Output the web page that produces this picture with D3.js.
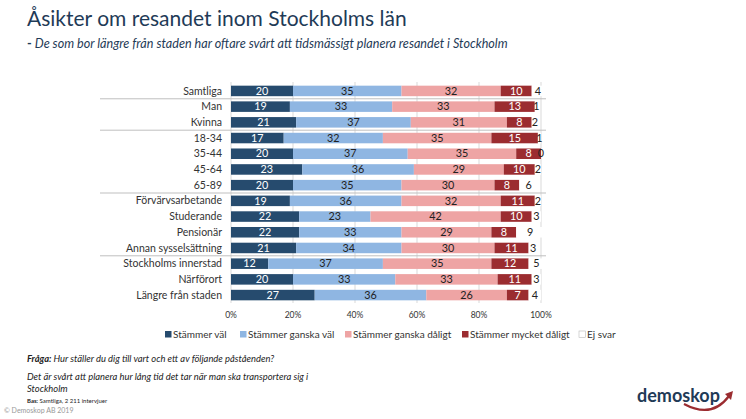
<!DOCTYPE html>
<html><head><meta charset="utf-8">
<script src="https://cdn.jsdelivr.net/npm/d3@7"></script>
<style>
body{margin:0;background:#fff;}
svg text{font-family:Lato,"Open Sans",sans-serif;}
</style></head>
<body><svg id="c" width="746" height="419"></svg>
<script>
const categories = ["Samtliga","Man","Kvinna","18-34","35-44","45-64","65-89","Förvärvsarbetande","Studerande","Pensionär","Annan sysselsättning","Stockholms innerstad","Närförort","Längre från staden"];
const seriesNames = ["Stämmer väl","Stämmer ganska väl","Stämmer ganska dåligt","Stämmer mycket dåligt","Ej svar"];
const stammerVal        = [20,19,21,17,20,23,20,19,22,22,21,12,20,27];
const stammerGanskaVal  = [35,33,37,32,37,36,35,36,23,33,34,37,33,36];
const ganskaDaligt      = [32,33,31,35,35,29,30,32,42,29,30,35,33,26];
const mycketDaligt      = [10,13,8,15,8,10,8,11,10,8,11,12,11,7];
const ejSvar            = [4,1,2,1,0,2,6,2,3,9,3,5,3,4];
const groupBreaksAfter  = ["Samtliga","Kvinna","65-89","Annan sysselsättning"];
const tickValues = [0,20,40,60,80,100];

const colors = ["#264b6e","#8fb6e2","#eea4a4","#9b2c30","#ffffff"];
const textColors = ["#ffffff","#222","#222","#ffffff","#222"];

const svg = d3.select("#c");
const x = d3.scaleLinear().domain([0,100]).range([231,541]);
const y = d3.scaleBand().domain(categories).range([83,303]).paddingInner(0.33).paddingOuter(0.17);

// title
svg.append("text").attr("x",27).attr("y",26).attr("font-size",21).attr("fill","#1f3b57").text("Åsikter om resandet inom Stockholms län");
const sub = svg.append("text").attr("x",27).attr("y",48).attr("font-size",12.6).attr("fill","#1f3b57");
sub.append("tspan").attr("font-weight","bold").text("- ");
sub.append("tspan").attr("font-style","italic").text("De som bor längre från staden har oftare svårt att tidsmässigt planera resandet i Stockholm");

// gridlines
svg.append("g").selectAll("line").data(tickValues).join("line")
  .attr("x1",d=>x(d)).attr("x2",d=>x(d)).attr("y1",82).attr("y2",303)
  .attr("stroke","#d9d9d9").attr("stroke-width",1);

// group separators
const step = y.step();
svg.append("g").selectAll("line").data(groupBreaksAfter).join("line")
  .attr("x1",100).attr("x2",546)
  .attr("y1",d=>y(d)+y.bandwidth()+ (step-y.bandwidth())/2)
  .attr("y2",d=>y(d)+y.bandwidth()+ (step-y.bandwidth())/2)
  .attr("stroke","#bfbfbf").attr("stroke-width",1);

// stacked data
const rows = categories.map((c,i)=>({cat:c, vals:[stammerVal[i],stammerGanskaVal[i],ganskaDaligt[i],mycketDaligt[i],ejSvar[i]]}));
const segs = [];
rows.forEach(r=>{let acc=0; r.vals.forEach((v,k)=>{segs.push({cat:r.cat,k,v,x0:acc,x1:acc+v}); acc+=v;});});

svg.append("g").selectAll("rect").data(segs).join("rect")
  .attr("x",d=>x(d.x0)).attr("width",d=>x(d.x1)-x(d.x0))
  .attr("y",d=>y(d.cat)).attr("height",y.bandwidth())
  .attr("fill",d=>colors[d.k]);

svg.append("g").selectAll("text").data(segs).join("text")
  .attr("x",d=>(x(d.x0)+x(d.x1))/2).attr("y",d=>y(d.cat)+y.bandwidth()/2+3.7)
  .attr("text-anchor","middle").attr("font-size",10.8)
  .attr("fill",d=>textColors[d.k]).text(d=>d.v);

// category labels
svg.append("g").selectAll("text").data(categories).join("text")
  .attr("x",222).attr("y",d=>y(d)+y.bandwidth()/2+3.6)
  .attr("text-anchor","end").attr("font-size",10.5).attr("fill","#333").text(d=>d);

// x axis ticks
svg.append("g").selectAll("text").data(tickValues).join("text")
  .attr("x",d=>x(d)).attr("y",318).attr("text-anchor","middle")
  .attr("font-size",8.5).attr("fill","#333").text(d=>d+"%");

// legend
const legX = [165,240,345,462,579];
const leg = svg.append("g").selectAll("g").data(seriesNames).join("g")
  .attr("transform",(d,i)=>`translate(${legX[i]},331)`);
leg.append("rect").attr("width",6.5).attr("height",6.5)
  .attr("fill",(d,i)=>colors[i]).attr("stroke",(d,i)=>i===4?"#bbb":"none").attr("stroke-width",0.6);
leg.append("text").attr("x",8).attr("y",6.8).attr("font-size",10).attr("fill","#333").text(d=>d);

// footer
const f1 = svg.append("text").attr("x",27).attr("y",362).attr("font-size",9.4).attr("fill","#222").attr("font-style","italic");
f1.append("tspan").attr("font-weight","bold").text("Fråga: ");
f1.append("tspan").text("Hur ställer du dig till vart och ett av följande påståenden?");
svg.append("text").attr("x",27).attr("y",380).attr("font-size",9.4).attr("fill","#222").attr("font-style","italic").text("Det är svårt att planera hur lång tid det tar när man ska transportera sig i");
svg.append("text").attr("x",27).attr("y",392).attr("font-size",9.4).attr("fill","#222").attr("font-style","italic").text("Stockholm");
const b = svg.append("text").attr("x",27).attr("y",403).attr("font-size",6).attr("fill","#222");
b.append("tspan").attr("font-weight","bold").text("Bas: ");
b.append("tspan").text("Samtliga, 2 211 intervjuer");
svg.append("text").attr("x",4).attr("y",413).attr("font-size",7).attr("fill","#999").text("© Demoskop AB 2019");

// logo
svg.append("text").attr("x",637).attr("y",402).attr("font-size",18).attr("font-weight","bold").attr("fill","#1f3b57").text("demoskop");
svg.append("path").attr("d","M684,404 Q712,419 729,396").attr("fill","none").attr("stroke","#9b2c30").attr("stroke-width",2.2);
svg.append("path").attr("d","M725,394 L733,391 L731,400 Z").attr("fill","#9b2c30");
</script></body></html>
